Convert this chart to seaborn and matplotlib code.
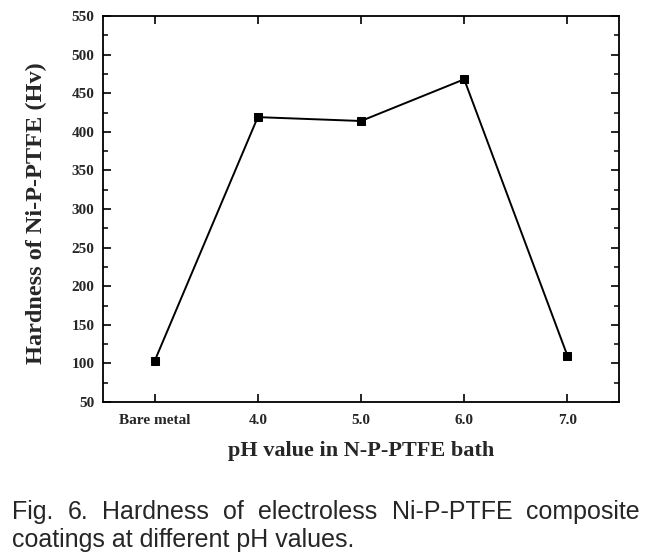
import matplotlib
matplotlib.use("Agg")
import matplotlib.pyplot as plt
import seaborn as sns
from matplotlib.ticker import MultipleLocator

categories = ["Bare metal", "4.0", "5.0", "6.0", "7.0"]
hardness = [103, 419, 414, 468, 110]
xlabel = "pH value in N-P-PTFE bath"
ylabel = "Hardness of Ni-P-PTFE (Hv)"
caption1 = "Fig. 6. Hardness of electroless Ni-P-PTFE composite"
caption2 = "coatings at different pH values."

sns.set_theme(style="ticks")
plt.rcParams["font.family"] = ["Liberation Serif", "DejaVu Serif"]

W, H = 658, 554
fig = plt.figure(figsize=(W/100, H/100), dpi=100)
ax = fig.add_axes([103/W, 1-402/H, 516/W, 386/H])

sns.lineplot(x=categories, y=hardness, ax=ax, color="black", linewidth=1.4,
             marker="s", markersize=5.5, markeredgecolor="black", sort=False)

ax.set_xlim(-0.5, 4.5)
ax.set_ylim(50, 550)
ax.yaxis.set_major_locator(MultipleLocator(50))
ax.yaxis.set_minor_locator(MultipleLocator(25))

for s in ax.spines.values():
    s.set_linewidth(1.3)
    s.set_color("black")
    s.set_visible(True)

ax.tick_params(axis="both", which="major", direction="in", length=6, width=1.2,
               color="black", top=True, right=True, labelsize=11, pad=6)
ax.tick_params(axis="x", which="major", pad=9)
ax.tick_params(axis="y", which="minor", direction="in", length=3.5, width=1.1,
               color="black", left=True, right=True)
for lab in ax.get_xticklabels() + ax.get_yticklabels():
    lab.set_fontweight("bold")

ax.set_xlabel(xlabel, fontsize=16, fontweight="bold")
ax.set_ylabel(ylabel, fontsize=17.5, fontweight="bold")
ax.xaxis.set_label_coords(0.5, -(441-402)/386)
ax.yaxis.set_label_coords((47-103)/516, 0.49)
ax.grid(False)

# caption, first line justified between x=12 and x=640 px
fig.canvas.draw()
renderer = fig.canvas.get_renderer()
cap_font = dict(fontsize=18, family=["Liberation Sans", "DejaVu Sans"], va="baseline")
words = caption1.split(" ")
texts = [fig.text(0, 0, w, **cap_font) for w in words]
widths = [t.get_window_extent(renderer).width for t in texts]
left_px, right_px = 12, 640
gap = (right_px - left_px - sum(widths)) / (len(words) - 1)
x = left_px
y1 = 1 - 519/H
for t, w in zip(texts, widths):
    t.set_position((x/W, y1))
    x += w + gap
fig.text(left_px/W, 1 - 547/H, caption2, **cap_font)

fig.savefig("out.png", dpi=100)
